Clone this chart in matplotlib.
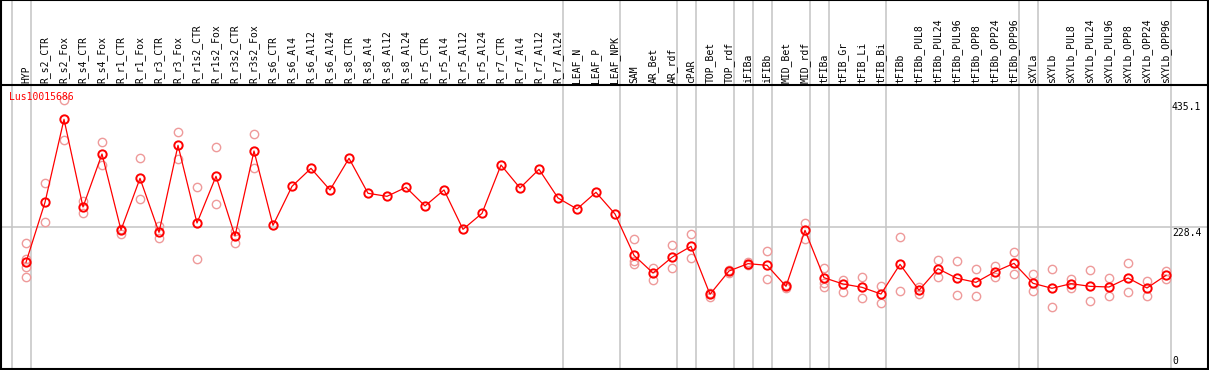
import matplotlib
matplotlib.use('Agg')
import matplotlib.pyplot as plt
import matplotlib.transforms as mtransforms

labels = ['HYP', 'R_s2_CTR', 'R_s2_Fox', 'R_s4_CTR', 'R_s4_Fox', 'R_r1_CTR', 'R_r1_Fox',
          'R_r3_CTR', 'R_r3_Fox', 'R_r1s2_CTR', 'R_r1s2_Fox', 'R_r3s2_CTR', 'R_r3s2_Fox',
          'R_s6_CTR', 'R_s6_Al4', 'R_s6_Al12', 'R_s6_Al24', 'R_s8_CTR', 'R_s8_Al4',
          'R_s8_Al12', 'R_s8_Al24', 'R_r5_CTR', 'R_r5_Al4', 'R_r5_Al12', 'R_r5_Al24',
          'R_r7_CTR', 'R_r7_Al4', 'R_r7_Al12', 'R_r7_Al24', 'LEAF_N', 'LEAF_P', 'LEAF_NPK',
          'SAM', 'AR_Bet', 'AR_rdf', 'cPAR', 'TOP_Bet', 'TOP_rdf', 'iFIBa', 'iFIBb',
          'MID_Bet', 'MID_rdf', 'tFIBa', 'tFIB_Gr', 'tFIB_Li', 'tFIB_Bi', 'tFIBb',
          'tFIBb_PUL8', 'tFIBb_PUL24', 'tFIBb_PUL96', 'tFIBb_OPP8', 'tFIBb_OPP24',
          'tFIBb_OPP96', 'sXYLa', 'sXYLb', 'sXYLb_PUL8', 'sXYLb_PUL24', 'sXYLb_PUL96',
          'sXYLb_OPP8', 'sXYLb_OPP24', 'sXYLb_OPP96']

means = [171.6, 269.0, 403.7, 261.4, 347.4, 224.0, 307.9, 220.2, 361.5, 235.4, 311.2,
         214.3, 352.3, 231.6, 294.9, 324.1, 289.0, 340.4, 283.6, 278.7, 293.3, 263.0,
         289.0, 225.1, 251.1, 329.5, 292.2, 322.5, 276.0, 258.1, 285.2, 250.0,
         182.9, 154.2, 179.7, 197.5, 119.6, 157.5, 169.4, 166.7, 132.6, 223.5,
         146.6, 136.4, 131.0, 120.1, 168.3, 126.1, 161.2, 145.6, 139.1, 156.3, 169.9,
         137.5, 129.4, 136.9, 132.6, 131.5, 146.1, 129.9, 150.5]

# individual replicates (empty where only one sample)
reps = [[202.4, 177.0, 164.5, 147.2], [299.8, 236.5], [435.1, 370.1], [271.6, 251.1],
        [366.3, 329.0], [225.6, 217.5], [340.4, 273.8], [230.5, 211.6], [383.1, 338.8],
        [293.3, 176.5], [358.2, 265.7], [222.9, 203.4], [379.3, 324.1],
        [], [], [], [], [], [], [], [], [], [], [], [], [], [], [], [], [], [], [],
        [208.9, 174.2, 168.8], [162.8, 143.3], [199.2, 161.8], [217.0, 179.1],
        [122.3, 115.8], [159.5, 155.0], [171.5, 167.0], [189.4, 144.0], [135.0, 129.5],
        [234.9, 209.4], [162.8, 137.5, 132.0], [142.9, 122.9], [147.7, 113.1],
        [132.6, 106.0], [212.2, 124.5], [132.0, 120.1], [174.8, 147.2], [173.2, 118.0],
        [160.2, 117.4], [165.1, 147.2], [187.8, 152.1], [152.1, 124.5], [160.7, 99.0],
        [144.5, 129.9], [159.1, 108.8], [146.1, 116.9], [170.0, 122.9], [141.2, 116.4],
        [157.0, 145.0]]

# index of the last sample in each group (vertical separators)
group_ends = [-1, 0, 28, 31, 34, 35, 37, 38, 39, 41, 42, 45, 52, 53, 60]

y_max = 435.1
y_mid = 228.4

W, H = 1209, 370
fig = plt.figure(figsize=(W / 100, H / 100), dpi=100)
mono = 'DejaVu Sans Mono'
grey = '#c4c4c4'

x_lim = ((1 - 26) / 19, (1208 - 26) / 19)

ax = fig.add_axes([1 / W, 1 / H, 1207 / W, 284 / H])
ax_h = fig.add_axes([1 / W, 285 / H, 1207 / W, 85 / H])

for a in (ax, ax_h):
    a.set_xlim(*x_lim)
    a.set_xticks([])
    a.set_yticks([])
    for s in a.spines.values():
        s.set_color('black')
        s.set_linewidth(1.5)
    for g in group_ends:
        a.axvline(g + 0.24, color=grey, lw=1.1, zorder=0)
ax.spines['top'].set_visible(False)

ax.set_ylim(-1.6, 459.4)
ax_h.set_ylim(0, 1)

ax.axhline(y_mid, color=grey, lw=1.1, zorder=0)

# replicates
for i, r in enumerate(reps):
    if r:
        ax.plot([i] * len(r), r, linestyle='none', marker='o', ms=6, mfc='none',
                mec='#ee9a9a', mew=1.0, zorder=2)

x = list(range(len(labels)))
ax.plot(x, means, color='red', lw=0.9, marker='o', ms=6, mfc='none', mec='red',
        mew=1.4, zorder=3)

trans_h = mtransforms.blended_transform_factory(ax_h.transData, ax_h.transAxes)
for i, lab in enumerate(labels):
    ax_h.text(i, 0.025, lab, rotation=90, ha='center', va='bottom',
              fontsize=7, family=mono, transform=trans_h)

ax.text((9 - 26) / 19, 440, 'Lus10015686', color='red', fontsize=7, family=mono,
        ha='left', va='center', zorder=5)

xr = (1172 - 26) / 19
ax.text(xr, y_max - 4, f'{y_max}', fontsize=7, family=mono, ha='left', va='top')
ax.text(xr, y_mid - 1, f'{y_mid}', fontsize=7, family=mono, ha='left', va='top')
ax.text(xr, 4, '0', fontsize=7, family=mono, ha='left', va='bottom')

fig.savefig('out.png', dpi=100)
